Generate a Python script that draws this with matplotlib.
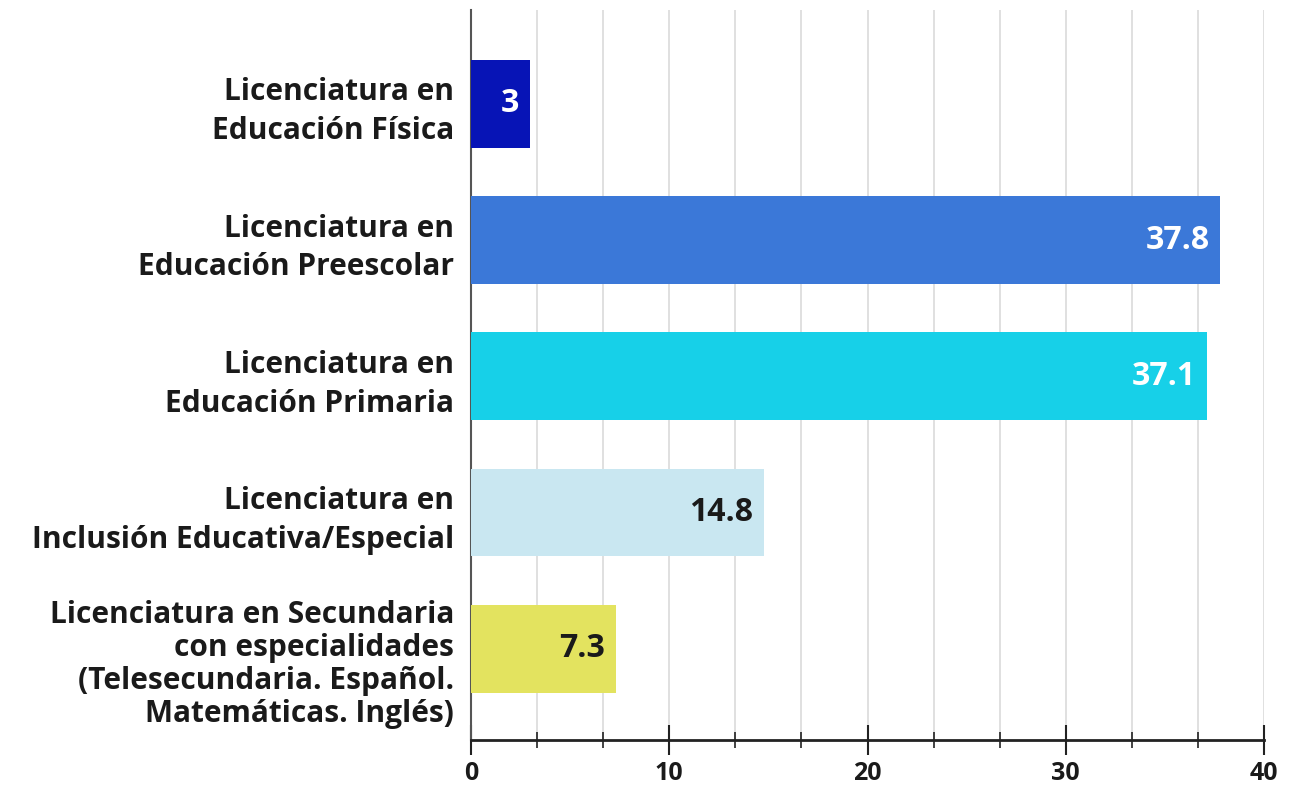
import matplotlib
matplotlib.use("Agg")
import matplotlib.pyplot as plt
from matplotlib.ticker import MultipleLocator
from matplotlib.transforms import ScaledTranslation

categories = [
    "Licenciatura en\nEducación Física",
    "Licenciatura en\nEducación Preescolar",
    "Licenciatura en\nEducación Primaria",
    "Licenciatura en\nInclusión Educativa/Especial",
    "Licenciatura en Secundaria\ncon especialidades\n(Telesecundaria. Español.\nMatemáticas. Inglés)",
]
values = [3, 37.8, 37.1, 14.8, 7.3]
value_labels = ["3", "37.8", "37.1", "14.8", "7.3"]
colors = ["#0714B6", "#3B78D8", "#17D0E8", "#C9E7F1", "#E3E35F"]
label_colors = ["white", "white", "white", "#1a1a1a", "#1a1a1a"]
xticks = [0, 10, 20, 30, 40]

plt.rcParams["font.family"] = ["Open Sans", "DejaVu Sans"]

fig = plt.figure(figsize=(12.92, 7.89), dpi=100)
ax = fig.add_axes([471 / 1292, 1 - 740 / 789, (1264 - 471) / 1292, (740 - 10) / 789])

ypos = list(range(len(categories)))
ax.barh(ypos, values, height=0.645, color=colors, zorder=3)

for y, v, lab, c in zip(ypos, values, value_labels, label_colors):
    ax.text(v - 0.55, y, lab, ha="right", va="center", color=c,
            fontsize=23, fontweight="bold", zorder=4)

ax.set_xlim(0, 40)
ax.set_ylim(4.67, -0.69)
ax.set_yticks(ypos)
ax.set_yticklabels(categories, fontsize=21.5, fontweight="bold", color="#1a1a1a")
ax.tick_params(axis="y", length=0, pad=12)
for t in ax.get_yticklabels():
    n = t.get_text().count("\n") + 1
    t.set_linespacing(1.38 if n == 2 else 1.13)
    if n > 2:
        t.set_transform(t.get_transform() + ScaledTranslation(0, -0.11, fig.dpi_scale_trans))

ax.set_xticks(xticks)
ax.xaxis.set_minor_locator(MultipleLocator(10 / 3))
ax.tick_params(axis="x", which="major", direction="inout", length=22, width=1.5,
               color="#222222", labelsize=18, pad=4, labelcolor="#1a1a1a")
ax.tick_params(axis="x", which="minor", direction="inout", length=12, width=1.2,
               color="#222222")
for t in ax.get_xticklabels():
    t.set_fontweight("bold")

ax.grid(axis="x", which="both", color="#dddddd", linewidth=1.3, zorder=0)
ax.grid(axis="y", visible=False)

for s in ["top", "right"]:
    ax.spines[s].set_visible(False)
ax.spines["left"].set_color("#555555")
ax.spines["left"].set_linewidth(1.5)
ax.spines["bottom"].set_color("#222222")
ax.spines["bottom"].set_linewidth(2)

fig.savefig("out.png", dpi=100, facecolor="white")
